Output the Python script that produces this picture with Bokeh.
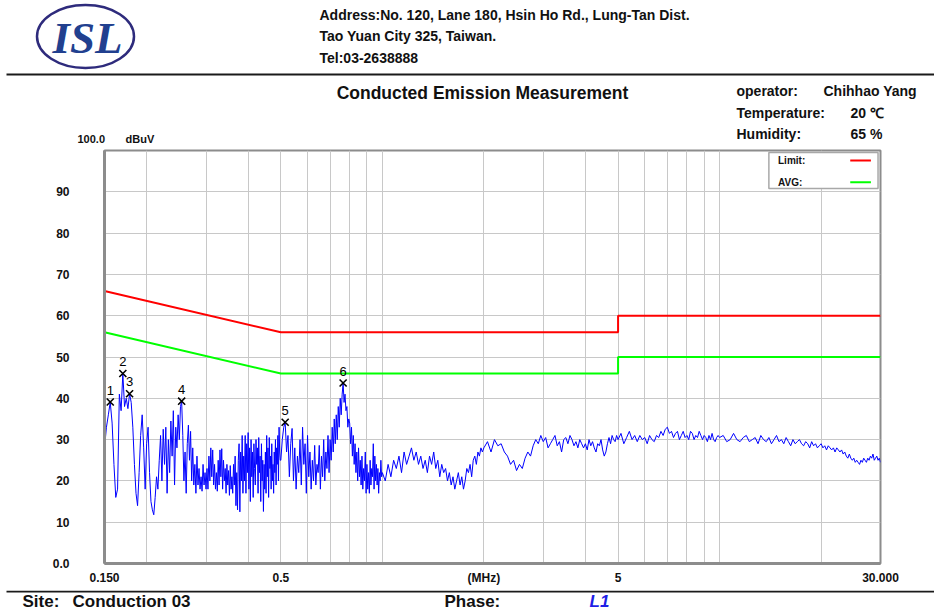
from bokeh.plotting import figure
from bokeh.models import Range1d, FixedTicker, CustomJSTickFormatter
from bokeh.core.properties import value
from bokeh.embed import file_html
from bokeh.resources import INLINE

FONT = "Liberation Sans"

# ---------------- data ----------------
# sweep frequencies in kHz
freq_khz = [
    # 0.150 - 0.498 MHz
    150, 152, 154, 156, 158, 160, 162, 164, 166, 168,
    170, 172, 174, 176, 178, 180, 182, 184, 186, 188,
    190, 192, 194, 196, 198, 200, 202, 204, 206, 208,
    210, 212, 214, 216, 218, 220, 222, 224, 226, 228,
    230, 232, 234, 236, 238, 240, 242, 244, 246, 248,
    250, 252, 254, 256, 258, 260, 262, 264, 266, 268,
    270, 272, 274, 276, 278, 280, 282, 284, 286, 288,
    290, 292, 294, 296, 298, 300, 302, 304, 306, 308,
    310, 312, 314, 316, 318, 320, 322, 324, 326, 328,
    330, 332, 334, 336, 338, 340, 342, 344, 346, 348,
    350, 352, 354, 356, 358, 360, 362, 364, 366, 368,
    370, 372, 374, 376, 378, 380, 382, 384, 386, 388,
    390, 392, 394, 396, 398, 400, 402, 404, 406, 408,
    410, 412, 414, 416, 418, 420, 422, 424, 426, 428,
    430, 432, 434, 436, 438, 440, 442, 444, 446, 448,
    450, 452, 454, 456, 458, 460, 462, 464, 466, 468,
    470, 472, 474, 476, 478, 480, 482, 484, 486, 488,
    490, 492, 494, 496, 498,
    # 0.500 - 0.995 MHz
    500, 505, 510, 515, 520, 525, 530, 535, 540, 545,
    550, 555, 560, 565, 570, 575, 580, 585, 590, 595,
    600, 605, 610, 615, 620, 625, 630, 635, 640, 645,
    650, 655, 660, 665, 670, 675, 680, 685, 690, 695,
    700, 705, 710, 715, 720, 725, 730, 735, 740, 745,
    750, 755, 760, 765, 770, 775, 780, 785, 790, 795,
    800, 805, 810, 815, 820, 825, 830, 835, 840, 845,
    850, 855, 860, 865, 870, 875, 880, 885, 890, 895,
    900, 905, 910, 915, 920, 925, 930, 935, 940, 945,
    950, 955, 960, 965, 970, 975, 980, 985, 990, 995,
    # 1.00 - 1.98 MHz
    1000, 1020, 1040, 1060, 1080, 1100, 1120, 1140, 1160, 1180,
    1200, 1220, 1240, 1260, 1280, 1300, 1320, 1340, 1360, 1380,
    1400, 1420, 1440, 1460, 1480, 1500, 1520, 1540, 1560, 1580,
    1600, 1620, 1640, 1660, 1680, 1700, 1720, 1740, 1760, 1780,
    1800, 1820, 1840, 1860, 1880, 1900, 1920, 1940, 1960, 1980,
    # 2.00 - 4.95 MHz
    2000, 2050, 2100, 2150, 2200, 2250, 2300, 2350, 2400, 2450,
    2500, 2550, 2600, 2650, 2700, 2750, 2800, 2850, 2900, 2950,
    3000, 3050, 3100, 3150, 3200, 3250, 3300, 3350, 3400, 3450,
    3500, 3550, 3600, 3650, 3700, 3750, 3800, 3850, 3900, 3950,
    4000, 4050, 4100, 4150, 4200, 4250, 4300, 4350, 4400, 4450,
    4500, 4550, 4600, 4650, 4700, 4750, 4800, 4850, 4900, 4950,
    # 5.0 - 9.9 MHz
    5000, 5100, 5200, 5300, 5400, 5500, 5600, 5700, 5800, 5900,
    6000, 6100, 6200, 6300, 6400, 6500, 6600, 6700, 6800, 6900,
    7000, 7100, 7200, 7300, 7400, 7500, 7600, 7700, 7800, 7900,
    8000, 8100, 8200, 8300, 8400, 8500, 8600, 8700, 8800, 8900,
    9000, 9100, 9200, 9300, 9400, 9500, 9600, 9700, 9800, 9900,
    # 10 - 30 MHz
    10000, 10250, 10500, 10750, 11000, 11250, 11500, 11750, 12000, 12250,
    12500, 12750, 13000, 13250, 13500, 13750, 14000, 14250, 14500, 14750,
    15000, 15250, 15500, 15750, 16000, 16250, 16500, 16750, 17000, 17250,
    17500, 17750, 18000, 18250, 18500, 18750, 19000, 19250, 19500, 19750,
    20000, 20250, 20500, 20750, 21000, 21250, 21500, 21750, 22000, 22250,
    22500, 22750, 23000, 23250, 23500, 23750, 24000, 24250, 24500, 24750,
    25000, 25250, 25500, 25750, 26000, 26250, 26500, 26750, 27000, 27250,
    27500, 27750, 28000, 28250, 28500, 28750, 29000, 29250, 29500, 29750,
    30000,
]

# measured level in dBuV
level_dbuv = [
    # 0.150 - 0.498 MHz
    28, 33, 36, 39.1, 34, 24, 16, 18, 41, 37,
    46.0, 38, 40, 37.5, 41.1, 39, 33, 24, 17, 14,
    22, 31, 36, 28, 18, 29, 33, 22, 15, 13,
    11.8, 16, 21, 18, 25, 31, 20, 32.5, 24, 33,
    17, 30, 22, 34.5, 26, 37, 19, 33, 28, 36,
    30, 38, 39.3, 31, 20, 27, 17, 29, 33.5, 25,
    32, 20, 28, 19, 24, 17, 26, 19, 23, 18,
    21, 17.5, 24, 19, 22, 18, 23, 18, 26, 20,
    28, 21, 27.5, 19, 24, 18, 22, 17.5, 25, 19,
    27.5, 21, 27.8, 18, 25, 20, 23, 17, 24, 19,
    22.5, 16.5, 23.7, 18, 21, 17, 24, 19, 26, 14,
    22, 13, 25, 29, 12.5, 27, 20, 31, 17, 26,
    20, 31, 17, 29, 22, 31.7, 18, 28, 15, 30,
    21, 27, 16, 29, 23, 19, 30, 24, 28, 17,
    30.5, 22, 26, 15, 29, 20, 25, 12.6, 24, 18,
    27, 17, 31, 21, 28, 16, 30.5, 23, 26, 18,
    29, 20, 24, 17, 27, 22, 30, 19, 28, 24,
    31, 20, 33, 27, 25,
    # 0.500 - 0.995 MHz
    25, 30, 33, 34.2, 27, 31, 21, 29, 32.7, 20,
    28, 18, 26, 22, 30, 19, 33, 24, 29, 17,
    31, 21, 27, 18, 25, 20, 28.6, 19, 24, 22,
    28.6, 18, 26, 21, 30, 20, 27, 23, 31, 22,
    30, 25, 33, 27, 35, 29, 36, 30, 38, 33,
    40, 36, 41, 43.7, 39, 41, 37, 38, 33, 35,
    34, 29, 33, 26, 31, 24, 29, 22, 27, 20,
    28, 21, 25, 19, 26, 18, 23, 20, 27, 17,
    24, 18, 22, 17, 25, 19, 23, 21, 29, 18,
    26, 20, 24, 19, 23, 17, 22, 20, 25, 21,
    # 1.00 - 1.98 MHz
    22, 20, 24, 21, 25, 23, 26, 22, 27, 24,
    26, 28, 25, 27, 24, 26, 23, 25, 22, 26,
    24, 27, 23, 25, 21, 24, 22, 23, 20, 22,
    19, 21, 18, 20, 22, 19, 21, 18, 20, 23,
    22, 24, 21, 25, 26, 24, 27, 26, 28, 27,
    # 2.00 - 4.95 MHz
    28, 29.5, 27, 30, 28.5, 29, 27, 26, 24, 25,
    22.5, 24, 23, 25.5, 27, 26, 28.5, 30, 29, 31,
    29.5, 30.5, 28, 29, 30, 31, 28.5, 29.5, 27, 30,
    30.5, 29, 31, 30, 28.5, 29.5, 28, 30, 29, 28,
    29, 27.5, 30, 28.5, 29.5, 28, 27, 29, 28.5, 30,
    27.5, 26, 27, 29, 30.5, 29, 31, 30, 29.5, 31,
    # 5.0 - 9.9 MHz
    30, 31.5, 29, 30.5, 32, 30, 31, 29.5, 31, 30,
    30.5, 29, 31, 30, 29.5, 31, 30.5, 32, 31, 32.5,
    33, 31.5, 32, 30.5, 31.5, 32, 30, 31, 32, 30.5,
    31, 30, 32, 31.5, 30, 31, 30.5, 32, 31, 30,
    31, 30.5, 29.5, 31, 30, 31.5, 30, 29.5, 30.5, 31,
    # 10 - 30 MHz
    30.5, 31, 29.5, 30, 31.5, 30, 29.5, 30.5, 31, 29.5,
    30, 30.5, 29, 31, 30, 29.5, 30.5, 29, 30, 31,
    29.5, 30, 29, 30.5, 29.5, 28.5, 30, 29, 29.5, 30,
    29, 28.5, 29.5, 29, 28, 29.5, 28.5, 29, 28, 28.5,
    29, 28, 28.5, 27.5, 28.5, 28, 27.5, 28, 27, 28,
    27.5, 27, 27.5, 26.5, 27, 26, 25.5, 26.5, 25.5, 25,
    25.5, 24.5, 25, 24.5, 24, 25, 24.5, 25.5, 25, 24.5,
    25.5, 25, 26, 25.5, 26.5, 25, 25.5, 26, 25, 25.5,
    24.5,
]

# limit lines
limit_freq_mhz = [0.15, 0.5, 5, 5, 30]
qp_limit_dbuv = [66, 56, 56, 60, 60]
avg_limit_dbuv = [56, 46, 46, 50, 50]

# peak markers
marker_no = ["1", "2", "3", "4", "5", "6"]
marker_freq_mhz = [0.156, 0.170, 0.178, 0.254, 0.515, 0.765]
marker_level_dbuv = [39.1, 46.0, 41.1, 39.3, 34.2, 43.7]

# axes
y_ticks = [0, 10, 20, 30, 40, 50, 60, 70, 80, 90]
y_tick_labels = ["0.0", "10", "20", "30", "40", "50", "60", "70", "80", "90"]
y_grid = [10, 20, 30, 40, 50, 60, 70, 80, 90]
x_ticks = [0.15, 0.5, 2, 5, 30]
x_tick_labels = ["0.150", "0.5", "(MHz)", "5", "30.000"]
x_grid_mhz = [0.2, 0.3, 0.4, 0.5, 0.6, 0.7, 0.8, 0.9, 1,
              2, 3, 4, 5, 6, 7, 8, 9, 10, 20]

legend_labels = ["Limit:", "AVG:"]

freq_mhz = [f / 1000.0 for f in freq_khz]
assert len(freq_mhz) == len(level_dbuv), (len(freq_mhz), len(level_dbuv))

W = 934


def blank(height, y0, y1):
    f = figure(width=W, height=height, x_range=Range1d(0, W), y_range=Range1d(y0, y1),
               x_axis_location=None, y_axis_location=None, toolbar_location=None,
               output_backend="svg", min_border=0, outline_line_color=None)
    f.grid.visible = False
    return f


def txt(f, x, y, s, size="14px", style="bold", color="#111111", align="left", font=FONT):
    f.text(x=[x], y=[y], text=[s], text_font=value(font), text_font_size=size,
           text_font_style=style, text_color=color, text_align=align, text_baseline="middle")


# ---------------- header (page y 0..148) ----------------
hdr = blank(148, 148, 0)
hdr.ellipse(x=[85], y=[36], width=[97], height=[63], width_units="screen", height_units="screen",
            fill_color=None, line_color="#2e2b7c", line_width=2.5)
txt(hdr, 87, 37, "ISL", size="45px", style="bold italic", color="#21408f", align="center",
    font="Liberation Serif")
txt(hdr, 319, 14, "Address:No. 120, Lane 180, Hsin Ho Rd., Lung-Tan Dist.")
txt(hdr, 319, 35, "Tao Yuan City 325, Taiwan.")
txt(hdr, 319, 57, "Tel:03-2638888")
hdr.segment(x0=[6], y0=[74], x1=[934], y1=[74], line_color="#1a1a1a", line_width=2)
txt(hdr, 482, 92, "Conducted Emission Measurement", size="17.5px", align="center")
txt(hdr, 736, 90, "operator:")
txt(hdr, 823, 90, "Chihhao Yang")
txt(hdr, 736, 112, "Temperature:")
txt(hdr, 850, 112, "20 ℃")
txt(hdr, 736, 133, "Humidity:")
txt(hdr, 850, 133, "65 %")
txt(hdr, 77, 138, "100.0", size="11px")
txt(hdr, 125, 138, "dBuV", size="11px")

# ---------------- main chart (page y 148..590) ----------------
p = figure(width=W, height=442, x_axis_type="log", x_range=Range1d(0.15, 30),
           y_range=Range1d(0, 100), toolbar_location=None, output_backend="svg",
           min_border_left=104, min_border_right=54, min_border_top=2, min_border_bottom=27,
           outline_line_color="#8c8c8c", outline_line_width=2)

p.xgrid.ticker = FixedTicker(ticks=x_grid_mhz)
p.ygrid.ticker = FixedTicker(ticks=y_grid)
p.grid.grid_line_color = "#c8c8c8"
p.grid.grid_line_width = 1

p.xaxis.ticker = FixedTicker(ticks=x_ticks)
p.xaxis.formatter = CustomJSTickFormatter(
    args=dict(vals=x_ticks, labs=x_tick_labels),
    code="const i = vals.findIndex(v => Math.abs(Math.log10(v) - Math.log10(tick)) < 1e-6);"
         "return i >= 0 ? labs[i] : '';")
p.yaxis.ticker = FixedTicker(ticks=y_ticks)
p.yaxis.formatter = CustomJSTickFormatter(
    args=dict(vals=y_ticks, labs=y_tick_labels),
    code="const i = vals.findIndex(v => Math.abs(v - tick) < 1e-6);"
         "return i >= 0 ? labs[i] : '';")
p.axis.major_tick_line_color = None
p.axis.minor_tick_line_color = None
p.axis.axis_line_color = "#8c8c8c"
p.axis.axis_line_width = 3
p.axis.major_label_text_font = FONT
p.axis.major_label_text_font_size = "12px"
p.axis.major_label_text_font_style = "bold"
p.axis.major_label_text_color = "#111111"
p.xaxis.major_label_standoff = 1
p.yaxis.major_label_standoff = 29
p.yaxis.major_label_text_align = "left"

p.line(limit_freq_mhz, qp_limit_dbuv, line_color="#ff0000", line_width=2)
p.line(limit_freq_mhz, avg_limit_dbuv, line_color="#00ff00", line_width=2)
p.line(freq_mhz, level_dbuv, line_color="#0000ff", line_width=1)

p.scatter(marker_freq_mhz, marker_level_dbuv, marker="x", size=10, line_color="#000000",
          line_width=1.6)
p.text(marker_freq_mhz, marker_level_dbuv, text=marker_no, y_offset=-12,
       text_font=value(FONT), text_font_size="13px", text_align="center",
       text_baseline="middle", text_color="#000000")

# legend box (label left, line right, as in the reference)
p.quad(left=[14.0], right=[29.5], bottom=[90.8], top=[99.5], fill_color="white",
       line_color="#a8a8a8", line_width=1.5)
p.text(x=[14.9, 14.9], y=[97.6, 92.3], text=legend_labels, text_font=value(FONT),
       text_font_size="10px", text_font_style="bold", text_baseline="middle",
       text_color="#111111")
p.segment(x0=[24.4], y0=[97.6], x1=[28.1], y1=[97.6], line_color="#ff0000", line_width=2)
p.segment(x0=[24.4], y0=[92.3], x1=[28.1], y1=[92.3], line_color="#00ff00", line_width=2)

# ---------------- footer (page y 590..614) ----------------
ftr = blank(24, 614, 590)
ftr.segment(x0=[6], y0=[591], x1=[934], y1=[591], line_color="#1a1a1a", line_width=2)
txt(ftr, 22, 601, "Site:", size="17px")
txt(ftr, 72, 601, "Conduction 03", size="17px")
txt(ftr, 444, 601, "Phase:", size="17px")
txt(ftr, 589, 601, "L1", size="17px", style="bold italic", color="#1f1fe6")

open("out.html", "w").write(file_html([hdr, p, ftr], INLINE))
